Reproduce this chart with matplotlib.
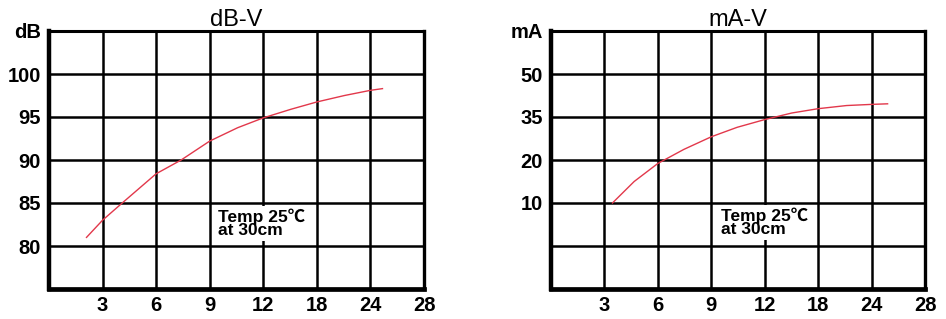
import numpy as np
import matplotlib
matplotlib.use("Agg")
import matplotlib.pyplot as plt

# x axis (volts) - ticks are evenly spaced even though values are not
volt_ticks = [3, 6, 9, 12, 18, 24, 28]

# dB-V curve
db_volts = [2.1, 3.0, 4.1, 6.0, 7.4, 9.0, 10.56, 12.0, 15.1, 18.0, 21.1, 24.0, 24.9]
db_values = [81.0, 83.0, 85.0, 88.4, 90.0, 92.2, 93.75, 94.9, 95.9, 96.75, 97.5, 98.1, 98.3]
db_ticks = [80, 85, 90, 95, 100]

# mA-V curve
ma_volts = [3.45, 4.67, 6.0, 7.46, 9.0, 10.45, 12.0, 15.05, 18.0, 21.2, 24.0, 25.2]
ma_values = [10.0, 15.0, 19.2, 23.7, 28.1, 31.4, 34.1, 36.4, 37.9, 39.0, 39.4, 39.6]
ma_ticks = [10, 20, 35, 50]

plt.rcParams['font.family'] = ['Liberation Sans', 'Noto Sans CJK SC', 'DejaVu Sans']

# knots of the piecewise scales (value -> grid position)
vx_knots = [0] + volt_ticks
px_knots = list(range(len(vx_knots)))
ma_knots = [-10, 0] + ma_ticks + [65]
my_knots = list(range(len(ma_knots)))


def make_scale(vals, pos):
    fwd = lambda v: np.interp(v, vals, pos)
    inv = lambda p: np.interp(p, pos, vals)
    return fwd, inv


fig = plt.figure(figsize=(9.46, 3.19), dpi=100)
ax1 = fig.add_axes([49 / 946, 30 / 319, 375 / 946, 258 / 319])
ax2 = fig.add_axes([551 / 946, 30 / 319, 374 / 946, 258 / 319])

line_color = '#e2384b'
note = 'Temp 25\u2103\nat 30cm'

for ax in (ax1, ax2):
    ax.set_xscale('function', functions=make_scale(vx_knots, px_knots))
    ax.set_xlim(0, 28)
    ax.set_xticks(volt_ticks)
    ax.set_xticklabels([str(v) for v in volt_ticks], fontsize=14.5,
                       fontweight='bold')
    ax.tick_params(length=0)
    ax.tick_params(axis='x', pad=5)
    ax.tick_params(axis='y', pad=6)
    ax.grid(True, color='black', linewidth=1.8)
    ax.set_axisbelow(True)
    ax.spines['left'].set_linewidth(3.2)
    ax.spines['bottom'].set_linewidth(3.4)
    ax.spines['top'].set_linewidth(2.2)
    ax.spines['right'].set_linewidth(2.4)

# --- dB-V ---
ax1.set_ylim(75, 105)
ax1.set_yticks(db_ticks + [105])
ax1.set_yticklabels([str(v) for v in db_ticks] + ['dB'], fontsize=14.5,
                    fontweight='bold')
ax1.plot(db_volts, db_values, color=line_color, linewidth=1.0, zorder=3)
ax1.set_title('dB-V', fontsize=17, pad=3)
ax1.text(9.45, 82.6, note, fontsize=12.5, fontweight='bold',
         linespacing=0.82, va='center', ha='left', zorder=2,
         bbox=dict(facecolor='white', edgecolor='none', pad=2))

# --- mA-V ---
ax2.set_yscale('function', functions=make_scale(ma_knots, my_knots))
ax2.set_ylim(-10, 65)
ax2.set_yticks([0] + ma_ticks + [65])
ax2.set_yticklabels([''] + [str(v) for v in ma_ticks] + ['mA'], fontsize=14.5,
                    fontweight='bold')
ax2.plot(ma_volts, ma_values, color=line_color, linewidth=1.0, zorder=3)
ax2.set_title('mA-V', fontsize=17, pad=3)
ax2.text(9.55, 5.5, note, fontsize=12.5, fontweight='bold',
         linespacing=0.82, va='center', ha='left', zorder=2,
         bbox=dict(facecolor='white', edgecolor='none', pad=2))

fig.savefig('out.png', dpi=100, facecolor='white')
